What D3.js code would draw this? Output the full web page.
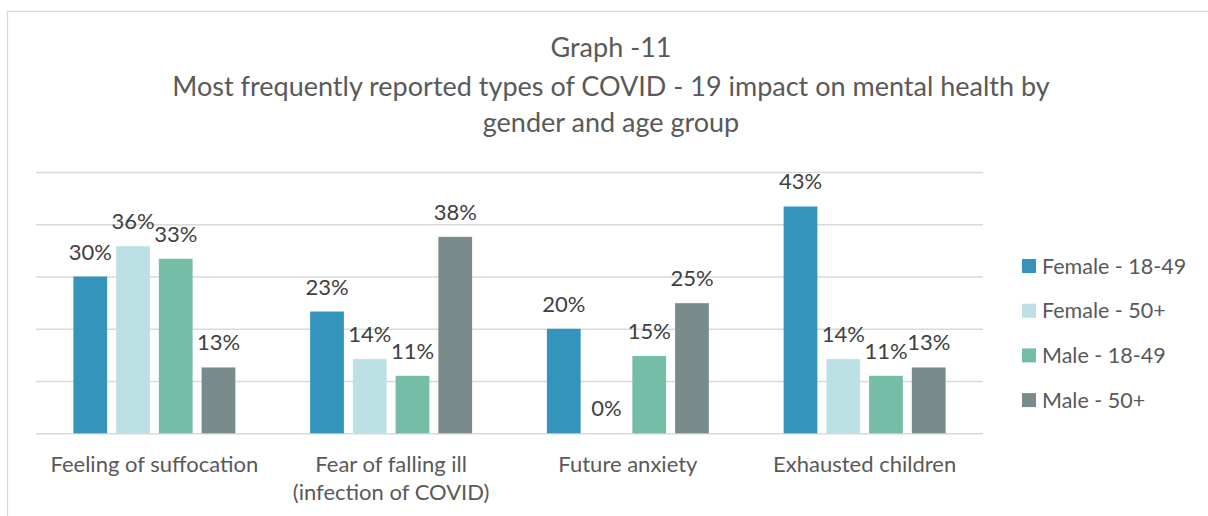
<!DOCTYPE html>
<html>
<head>
<meta charset="utf-8">
<script src="https://cdn.jsdelivr.net/npm/d3@7"></script>
<style>
  body { margin: 0; background: #fff; }
  text { font-family: Lato, "Open Sans", sans-serif; }
</style>
</head>
<body>
<div id="content"></div>
<script>
// values (fractions)
var categories = ["Feeling of suffocation", "Fear of falling ill\n(infection of COVID)", "Future anxiety", "Exhausted children"];
var seriesNames = ["Female - 18-49", "Female - 50+", "Male - 18-49", "Male - 50+"];
var female1849 = [0.300, 0.233, 0.200, 0.434];
var female50 = [0.358, 0.142, 0.000, 0.142];
var male1849 = [0.334, 0.110, 0.148, 0.110];
var male50 = [0.126, 0.376, 0.249, 0.126];
var gridTicks = [0, 0.1, 0.2, 0.3, 0.4, 0.5];
var titleLines = ["Graph -11", "Most frequently reported types of COVID - 19 impact on mental health by", "gender and age group"];

var colors = ["#3594BB", "#BDE0E4", "#75BDA7", "#7A8B8C"];

var width = 1208;
var height = 516;

var series = [female1849, female50, male1849, male50];

var svg = d3.select("#content").append("svg")
    .attr("width", width)
    .attr("height", height)
    .attr("id", "viz");

// chart frame, runs off the right and bottom edges
svg.append("rect")
    .attr("x", 7.5)
    .attr("y", 11.5)
    .attr("width", width + 20)
    .attr("height", height + 20)
    .attr("fill", "#fff")
    .attr("stroke", "#D9D9D9")
    .attr("stroke-width", 1.3);

// title
svg.selectAll(".title")
    .data(titleLines)
    .enter().append("text")
    .attr("class", "title")
    .attr("x", 611)
    .attr("y", function(d, i){ return [57, 96, 132][i]; })
    .attr("text-anchor", "middle")
    .attr("font-size", 27)
    .attr("fill", "#595959")
    .text(function(d){ return d; });

var x0 = d3.scaleBand()
    .domain(categories)
    .range([36, 983]);

var x1 = d3.scaleBand()
    .domain(d3.range(seriesNames.length))
    .range([0, x0.bandwidth()])
    .paddingInner(0.21)
    .paddingOuter(0.875);

var y = d3.scaleLinear()
    .domain([0, 0.5])
    .range([433.3, 172]);

// gridlines
svg.append("g")
    .call(d3.axisLeft(y).tickValues(gridTicks).tickSize(-(983 - 36)).tickFormat(""))
    .attr("transform", "translate(36,0)")
    .call(function(g){
        g.select(".domain").remove();
        g.selectAll(".tick line").attr("stroke", "#D9D9D9").attr("stroke-width", 1.5);
    });

// bars
var groups = svg.selectAll(".group")
    .data(categories)
    .enter().append("g")
    .attr("class", "group")
    .attr("transform", function(d){ return "translate(" + x0(d) + ",0)"; });

groups.selectAll("rect")
    .data(function(d, ci){ return series.map(function(s, si){ return {si: si, v: s[ci]}; }); })
    .enter().append("rect")
    .attr("x", function(d){ return x1(d.si); })
    .attr("y", function(d){ return y(d.v); })
    .attr("width", x1.bandwidth())
    .attr("height", function(d){ return y(0) - y(d.v); })
    .attr("fill", function(d){ return colors[d.si]; });

// data labels
groups.selectAll(".lbl")
    .data(function(d, ci){ return series.map(function(s, si){ return {si: si, v: s[ci]}; }); })
    .enter().append("text")
    .attr("class", "lbl")
    .attr("x", function(d){ return x1(d.si) + x1.bandwidth() / 2; })
    .attr("y", function(d){ return y(d.v) - 17; })
    .attr("text-anchor", "middle")
    .attr("font-size", 22)
    .attr("fill", "#404040")
    .text(function(d){ return Math.round(d.v * 100) + "%"; });

// category labels
var xaxis = svg.append("g")
    .call(d3.axisBottom(x0).tickSize(0).tickFormat(""))
    .attr("transform", "translate(0,433.3)");
xaxis.select(".domain").remove();

xaxis.selectAll(".tick").append("text")
    .attr("text-anchor", "middle")
    .attr("font-size", 22)
    .attr("fill", "#595959")
    .selectAll("tspan")
    .data(function(d){ return d.split("\n"); })
    .enter().append("tspan")
    .attr("x", 0)
    .attr("y", function(d, i){ return 39 + i * 28; })
    .text(function(d){ return d; });

// legend
var legend = svg.selectAll(".legend")
    .data(seriesNames)
    .enter().append("g")
    .attr("class", "legend")
    .attr("transform", function(d, i){ return "translate(1022," + (266 + i * 44.7) + ")"; });

legend.append("rect")
    .attr("x", 0)
    .attr("y", -7)
    .attr("width", 14)
    .attr("height", 14)
    .attr("fill", function(d, i){ return colors[i]; });

legend.append("text")
    .attr("x", 20)
    .attr("y", 7.5)
    .attr("font-size", 21.5)
    .attr("fill", "#595959")
    .text(function(d){ return d; });
</script>
</body>
</html>
